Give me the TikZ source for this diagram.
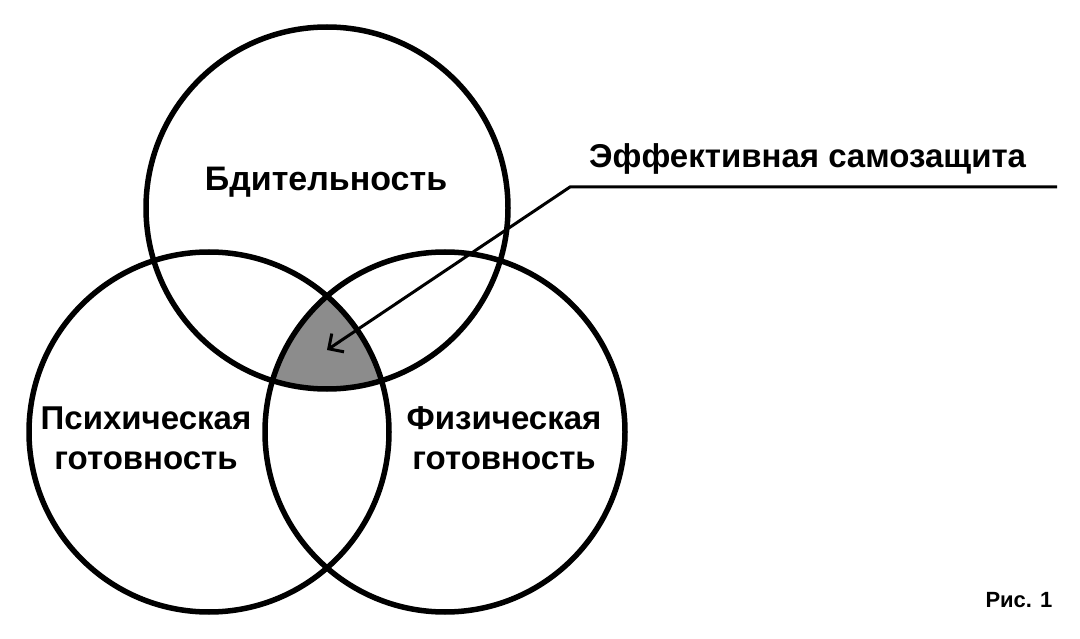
\documentclass[tikz,border=0pt]{standalone}
\usepackage{fontspec}
\setmainfont{Liberation Sans}
\usepackage{tikz}
\usetikzlibrary{arrows.meta}

\tikzset{
  ring/.style={draw=black,line width=5.5pt},
  lbl/.style={font=\bfseries\fontsize{33}{40}\selectfont,align=center,inner sep=0pt},
  leader/.style={line width=3pt,-{Straight Barb[length=11pt,width=22pt,line width=3pt]}}
}

\begin{document}
\begin{tikzpicture}[x=1pt,y=-1pt]
    \useasboundingbox (0,0) rectangle (1080,639);
    \coordinate (top) at (327,208);
    \coordinate (left) at (209,432);
    \coordinate (right) at (445,432);
    \begin{scope}
      \clip (top) circle (181);
      \clip (left) circle (180);
      \fill[black!45] (right) circle (180);
    \end{scope}
    \draw[ring] (top) circle (181);
    \draw[ring] (left) circle (180);
    \draw[ring] (right) circle (180);
    \node[lbl,font=\bfseries\fontsize{34}{40}\selectfont] (vigil) at (326,182) {Бдительность};
    \node[lbl] (psych) at (146,438) {Психическая\\готовность};
    \node[lbl] (phys) at (504,438) {Физическая\\готовность};
    \node[lbl,anchor=base west] (eff) at (589,168) {Эффективная самозащита};
    \coordinate (lineend) at (1057,187);
    \coordinate (knee) at (570,187);
    \coordinate (tip) at (327,350);
    \draw[leader] (lineend) -- (knee) -- (tip);
    \node[lbl,font=\bfseries\fontsize{22}{26}\selectfont] (fig) at (1019,600) {Рис. 1};
  \end{tikzpicture}
\end{document}
